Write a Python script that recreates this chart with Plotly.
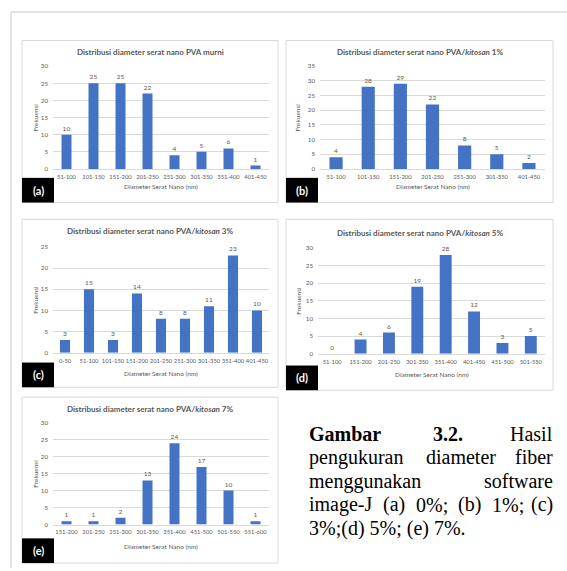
import plotly.graph_objects as go

W, H = 567, 571

# ---------------- data ----------------
cats_a = ["51-100", "101-150", "151-200", "201-250", "251-300", "301-350", "351-400", "401-450"]
vals_a = [10, 25, 25, 22, 4, 5, 6, 1]

cats_b = ["51-100", "101-150", "151-200", "201-250", "251-300", "301-350", "401-450"]
vals_b = [4, 28, 29, 22, 8, 5, 2]

cats_c = ["0-50", "51-100", "101-150", "151-200", "201-250", "251-300", "301-350", "351-400", "401-450"]
vals_c = [3, 15, 3, 14, 8, 8, 11, 23, 10]

cats_d = ["51-100", "151-200", "201-250", "301-350", "351-400", "401-450", "451-500", "501-550"]
vals_d = [0, 4, 6, 19, 28, 12, 3, 5]

cats_e = ["151-200", "201-250", "251-300", "301-350", "351-400", "451-500", "501-550", "551-600"]
vals_e = [1, 1, 2, 13, 24, 17, 10, 1]

titles = [
    "Distribusi diameter serat nano PVA murni",
    "Distribusi diameter serat nano PVA/<i>kitosan</i> 1%",
    "Distribusi diameter serat nano PVA/<i>kitosan</i> 3%",
    "Distribusi diameter serat nano PVA/<i>kitosan</i> 5%",
    "Distribusi diameter serat nano PVA/<i>kitosan</i> 7%",
]
panel_labels = ["(a)", "(b)", "(c)", "(d)", "(e)"]
y_maxes = [30, 35, 25, 30, 30]
x_title = "Diameter Serat Nano (nm)"
y_title = "Frekuensi"

# ---------------- layout geometry (pixels) ----------------
geo = [
    dict(box=(22, 278, 37, 201), plot=(53, 269, 63, 167), bw=0.37, ytx=36, xty=185, tty=49),
    dict(box=(286, 553, 37, 201), plot=(320, 545, 63, 167), bw=0.41, ytx=298, xty=185, tty=49),
    dict(box=(22, 278, 218, 388), plot=(53, 269, 246, 353), bw=0.42, ytx=36, xty=374, tty=230),
    dict(box=(286, 553, 218, 391), plot=(318, 545, 247, 354), bw=0.42, ytx=299, xty=375, tty=232),
    dict(box=(22, 278, 398, 566), plot=(53, 269, 424, 527), bw=0.37, ytx=36, xty=549, tty=410),
]

def px(x):
    return x / W

def py(y):
    return 1 - y / H

FONT = "Lato"
GRAY = "#595959"
GRID = "#d9d9d9"
BLUE = "#4472C4"

cats_all = [cats_a, cats_b, cats_c, cats_d, cats_e]
vals_all = [vals_a, vals_b, vals_c, vals_d, vals_e]

fig = go.Figure()
shapes = []
annotations = []
layout_axes = {}

# outer page frame
shapes.append(dict(type="line", xref="paper", yref="paper", x0=px(11), x1=1, y0=py(8), y1=py(8),
                   line=dict(color="#e3e3e3", width=2)))
shapes.append(dict(type="line", xref="paper", yref="paper", x0=px(11), x1=px(11), y0=py(8), y1=0,
                   line=dict(color="#e3e3e3", width=2)))

for i in range(5):
    g = geo[i]
    n = "" if i == 0 else str(i + 1)
    xa, ya = "x" + n, "y" + n
    bx0, bx1, by0, by1 = g["box"]
    px0, px1, py0, py1 = g["plot"]

    # panel box
    shapes.append(dict(type="rect", xref="paper", yref="paper", x0=px(bx0), x1=px(bx1), y0=py(by1), y1=py(by0),
                       line=dict(color=GRID, width=1), fillcolor="white", layer="below"))

    fig.add_trace(go.Bar(
        x=cats_all[i], y=vals_all[i], xaxis=xa, yaxis=ya,
        marker=dict(color=BLUE, line=dict(width=0)), width=g["bw"],
        text=[str(v) for v in vals_all[i]], textposition="outside", constraintext="none",
        textfont=dict(family=FONT, size=6.5, color=GRAY), cliponaxis=False, showlegend=False,
        hoverinfo="x+y",
    ))

    layout_axes["xaxis" + n] = dict(
        domain=[px(px0), px(px1)], anchor=ya, type="category",
        showgrid=False, showline=True, linecolor=GRID, linewidth=1, ticks="", tickangle=0,
        tickfont=dict(family=FONT, size=5.8, color=GRAY), fixedrange=True,
        range=[-0.5, len(cats_all[i]) - 0.5], ticklabelstandoff=2,
    )
    layout_axes["yaxis" + n] = dict(
        domain=[py(py1), py(py0)], anchor=xa, range=[0, y_maxes[i]], dtick=5,
        showgrid=True, gridcolor=GRID, gridwidth=1, zeroline=False, showline=False, ticks="",
        tickfont=dict(family=FONT, size=6.2, color=GRAY), fixedrange=True, ticklabelstandoff=4,
    )

    # chart title
    annotations.append(dict(xref="paper", yref="paper", x=px((bx0 + bx1) / 2), y=py(g["tty"]),
                            text="<b>" + titles[i] + "</b>", showarrow=False, xanchor="center", yanchor="middle",
                            font=dict(family=FONT, size=8, color=GRAY)))
    # x axis title
    annotations.append(dict(xref="paper", yref="paper", x=px((px0 + px1) / 2), y=py(g["xty"]),
                            text=x_title, showarrow=False, xanchor="center", yanchor="middle",
                            font=dict(family=FONT, size=6.5, color=GRAY)))
    # y axis title
    annotations.append(dict(xref="paper", yref="paper", x=px(g["ytx"]), y=py((py0 + py1) / 2),
                            text=y_title, showarrow=False, xanchor="center", yanchor="middle", textangle=-90,
                            font=dict(family=FONT, size=6.5, color=GRAY)))
    # black panel label
    lx0, lx1 = bx0, bx0 + 32
    ly1 = by1
    ly0 = by1 - 25
    shapes.append(dict(type="rect", xref="paper", yref="paper", x0=px(lx0), x1=px(lx1), y0=py(ly1), y1=py(ly0),
                       line=dict(width=0), fillcolor="black", layer="above"))
    annotations.append(dict(xref="paper", yref="paper", x=px((lx0 + lx1) / 2), y=py((ly0 + ly1) / 2),
                            text="<b>" + panel_labels[i] + "</b>", showarrow=False, xanchor="center",
                            yanchor="middle", font=dict(family=FONT, size=11, color="white")))

# ---------------- caption (justified) ----------------
CAP = dict(family="Liberation Serif", size=20, color="black")
cap_words = [
    # (text, x, anchor, line y-center)
    ("<b>Gambar</b>", 307, "left", 435),
    ("<b>3.2.</b>", 431, "left", 435),
    ("Hasil", 555, "right", 435),
    ("pengukuran", 307, "left", 459),
    ("diameter", 424, "left", 459),
    ("fiber", 555, "right", 459),
    ("menggunakan", 307, "left", 483),
    ("software", 555, "right", 483),
    ("image-J", 307, "left", 507),
    ("(a)", 381, "left", 507),
    ("0%;", 414, "left", 507),
    ("(b)", 456, "left", 507),
    ("1%;", 490, "left", 507),
    ("(c)", 555, "right", 507),
    ("3%;(d) 5%; (e) 7%.", 307, "left", 531),
]
for t, x, anc, y in cap_words:
    annotations.append(dict(xref="paper", yref="paper", x=px(x), y=py(y), text=t, showarrow=False,
                            xanchor=anc, yanchor="middle", font=CAP))

fig.update_layout(
    width=W, height=H, margin=dict(l=0, r=0, t=0, b=0),
    paper_bgcolor="white", plot_bgcolor="rgba(0,0,0,0)",
    shapes=shapes, annotations=annotations, showlegend=False,
    **layout_axes,
)

fig.write_html(
    "out.html",
    config={"displayModeBar": False},
    post_script="document.body.style.margin='0';document.body.style.overflow='hidden';",
)
